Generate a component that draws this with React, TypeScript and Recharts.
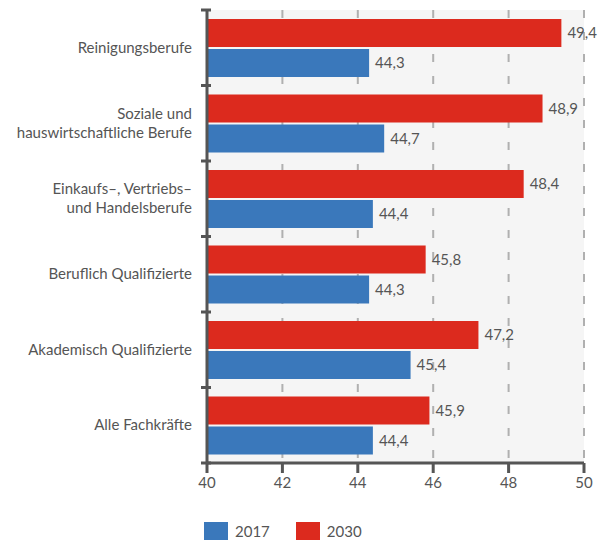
import { BarChart, Bar, XAxis, YAxis, CartesianGrid, LabelList, Legend } from "recharts";

const categories = [
  "Reinigungsberufe",
  "Soziale und\nhauswirtschaftliche Berufe",
  "Einkaufs–, Vertriebs–\nund Handelsberufe",
  "Beruflich Qualifizierte",
  "Akademisch Qualifizierte",
  "Alle Fachkräfte",
];
const values2017 = [44.3, 44.7, 44.4, 44.3, 45.4, 44.4];
const values2030 = [49.4, 48.9, 48.4, 45.8, 47.2, 45.9];
const xTicks = [40, 42, 44, 46, 48, 50];

const BLUE = "#3a78bb";
const RED = "#dc2a1e";
const TEXT = "#555555";
const FONT = "Lato, 'Open Sans', sans-serif";

const W = 604;
const H = 541;
const MARGIN = { top: 10, right: 20, bottom: 0, left: 0 };
const Y_WIDTH = 207;
const X_HEIGHT = 30;
const LEGEND_H = 48;
const plotH = H - MARGIN.top - MARGIN.bottom - X_HEIGHT - LEGEND_H;
const band = plotH / categories.length;

const data = categories.map((name, i) => ({
  name,
  y2017: values2017[i],
  y2030: values2030[i],
}));

const fmt = (v: any) => String(v).replace(".", ",");

const CategoryTick = (props: any) => {
  const { x, y, payload, index } = props;
  const lines = String(payload.value).split("\n");
  const lh = 19;
  const start = -((lines.length - 1) * lh) / 2;
  return (
    <g>
      <line x1={x + 2} x2={x + 12} y1={y - band / 2} y2={y - band / 2} stroke={TEXT} strokeWidth={3} />
      {index === categories.length - 1 && (
        <line x1={x + 2} x2={x + 12} y1={y + band / 2} y2={y + band / 2} stroke={TEXT} strokeWidth={3} />
      )}
      <text x={x - 7} y={y} textAnchor="end" fill={TEXT} fontSize={15} fontFamily={FONT}>
        {lines.map((l, i) => (
          <tspan key={i} x={x - 7} dy={i === 0 ? start + 5 : lh}>
            {l}
          </tspan>
        ))}
      </text>
    </g>
  );
};

const LegendContent = () => {
  const items = [
    { label: "2017", color: BLUE },
    { label: "2030", color: RED },
  ];
  return (
    <div style={{ display: "flex", paddingLeft: 204, paddingTop: 29, fontFamily: FONT, fontSize: 15, color: TEXT }}>
      {items.map((it) => (
        <div key={it.label} style={{ display: "flex", alignItems: "center", marginRight: 26 }}>
          <div style={{ width: 24, height: 18, background: it.color, marginRight: 7 }} />
          <span>{it.label}</span>
        </div>
      ))}
    </div>
  );
};

export default function App() {
  return (
    <div style={{ position: "absolute", left: 0, top: 0, width: W, height: H, background: "#fff" }}>
      <BarChart
        width={W}
        height={H}
        data={data}
        layout="vertical"
        margin={MARGIN}
        barSize={28}
        barGap={2}
      >
        <CartesianGrid
          horizontal={false}
          vertical
          fill="#f5f5f5"
          stroke="#b0b0b0"
          strokeWidth={2}
          strokeDasharray="8 14"
        />
        <XAxis
          type="number"
          domain={[40, 50]}
          ticks={xTicks}
          height={X_HEIGHT}
          axisLine={{ stroke: TEXT, strokeWidth: 3 }}
          tickLine={{ stroke: TEXT, strokeWidth: 3 }}
          tickSize={10}
          tickMargin={4}
          tick={{ fill: TEXT, fontSize: 15, fontFamily: FONT }}
          allowDataOverflow
        />
        <YAxis
          type="category"
          dataKey="name"
          width={Y_WIDTH}
          axisLine={{ stroke: TEXT, strokeWidth: 3 }}
          tickLine={false}
          tick={<CategoryTick />}
          interval={0}
        />
        <Legend verticalAlign="bottom" height={LEGEND_H} content={<LegendContent />} wrapperStyle={{ left: 0, width: W }} />
        <Bar dataKey="y2030" name="2030" fill={RED} isAnimationActive={false}>
          <LabelList dataKey="y2030" position="right" offset={6} formatter={fmt} fill={TEXT} fontSize={15} fontFamily={FONT} />
        </Bar>
        <Bar dataKey="y2017" name="2017" fill={BLUE} isAnimationActive={false}>
          <LabelList dataKey="y2017" position="right" offset={6} formatter={fmt} fill={TEXT} fontSize={15} fontFamily={FONT} />
        </Bar>
      </BarChart>
    </div>
  );
}
